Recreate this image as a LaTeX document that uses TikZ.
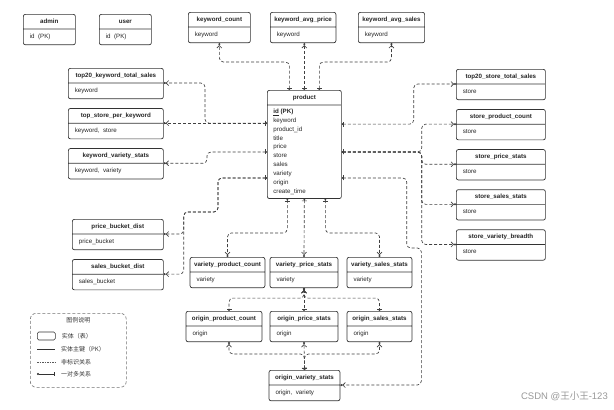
\documentclass[tikz,border=0pt]{standalone}
\usepackage{fontspec}
\setmainfont{Liberation Sans}
\newfontfamily\cjk{Noto Sans CJK SC}
\usetikzlibrary{shapes.multipart,arrows.meta,positioning}

% table: bold title part, field part
\newcommand{\tbl}[2]{\textbf{#1}\rule[-2pt]{0pt}{7pt}\nodepart{two}\rule[-2.5pt]{0pt}{8pt}\hspace*{2.5pt}#2}

\begin{document}
\begin{tikzpicture}[
    x=1pt, y=-1pt,
    node distance=9pt,
    entity/.style={rectangle split, rectangle split parts=2, rectangle split part align={center,left},
        draw=black!80, line width=0.7pt, rounded corners=2pt, inner xsep=4pt, inner ysep=3.5pt,
        text=black!85, font=\fontsize{6.2}{8.9}\selectfont, anchor=north west},
    link/.style={draw=black!75, line width=0.65pt, dash pattern=on 3pt off 2pt, rounded corners=4pt},
    fk/.style={link, {Circle[length=1.6pt] Bar[width=5pt]}-{Straight Barb[length=2.5pt,width=5pt] Circle[length=2pt]}},
    fkback/.style={link, {Circle[length=2pt] Straight Barb[length=2.5pt,width=5pt]}-{Bar[width=5pt] Circle[length=1.6pt]}},
    legtext/.style={font=\cjk\fontsize{6}{7}\selectfont, text=black!80, anchor=west, inner sep=0pt}
    ]

    \path[use as bounding box, fill=white] (0,0) rectangle (614,410);

    % Stand-alone tables
    \node[entity, minimum width=52pt] (admin) at (23,14) {\tbl{admin}{id\ \ (PK)}};
    \node[entity, minimum width=52pt] (user) at (99,14) {\tbl{user}{id\ \ (PK)}};

    % Keyword tables above product
    \node[entity, minimum width=62pt] (kwcount) at (188,12) {\tbl{keyword\_count}{keyword}};
    \node[entity, minimum width=65pt] (kwprice) at (270,12) {\tbl{keyword\_avg\_price}{keyword}};
    \node[entity, minimum width=64pt] (kwsales) at (358,12) {\tbl{keyword\_avg\_sales}{keyword}};

    % Central table
    \node[entity, minimum width=74pt, inner xsep=6pt, align=left] (product) at (267,90) {\textbf{product}\rule[-2pt]{0pt}{7pt}\nodepart{two}\textbf{\underline{id}\ (PK)}\\keyword\\product\_id\\title\\price\\store\\sales\\variety\\origin\\create\_time};

    % Left column
    \node[entity, minimum width=95pt] (t20kw) at (68,68) {\tbl{top20\_keyword\_total\_sales}{keyword}};
    \node[entity, minimum width=95pt, below=of t20kw] (storekw) {\tbl{top\_store\_per\_keyword}{keyword,\ \ store}};
    \node[entity, minimum width=95pt, below=of storekw] (kwvariety) {\tbl{keyword\_variety\_stats}{keyword,\ \ variety}};
    \node[entity, minimum width=91pt] (pricebucket) at (72,219) {\tbl{price\_bucket\_dist}{price\_bucket}};
    \node[entity, minimum width=91pt, below=of pricebucket] (salesbucket) {\tbl{sales\_bucket\_dist}{sales\_bucket}};

    % Right column
    \node[entity, minimum width=89pt] (t20store) at (456,69) {\tbl{top20\_store\_total\_sales}{store}};
    \node[entity, minimum width=89pt, below=of t20store] (storecount) {\tbl{store\_product\_count}{store}};
    \node[entity, minimum width=89pt, below=of storecount] (storeprice) {\tbl{store\_price\_stats}{store}};
    \node[entity, minimum width=89pt, below=of storeprice] (storesales) {\tbl{store\_sales\_stats}{store}};
    \node[entity, minimum width=89pt, below=of storesales] (storebreadth) {\tbl{store\_variety\_breadth}{store}};

    % Variety row
    \node[entity, minimum width=69pt, anchor=north] (varcount) at (227.5,257) {\tbl{variety\_product\_count}{variety}};
    \node[entity, minimum width=68pt, anchor=north] (varprice) at (304,257) {\tbl{variety\_price\_stats}{variety}};
    \node[entity, minimum width=65pt, anchor=north] (varsales) at (379.5,257) {\tbl{variety\_sales\_stats}{variety}};

    % Origin row
    \node[entity, minimum width=76pt, anchor=north] (orgcount) at (224,311) {\tbl{origin\_product\_count}{origin}};
    \node[entity, minimum width=68pt, anchor=north] (orgprice) at (304,311) {\tbl{origin\_price\_stats}{origin}};
    \node[entity, minimum width=65pt, anchor=north] (orgsales) at (379.5,311) {\tbl{origin\_sales\_stats}{origin}};
    \node[entity, minimum width=71pt, anchor=north] (orgvariety) at (304.5,370) {\tbl{origin\_variety\_stats}{origin,\ \ variety}};

    % Product -> keyword tables
    \draw[fk] ([xshift=-15pt]product.north) -- ++(0,-28) -| (kwcount.south);
    \draw[fk] (product.north) -- (product.north |- kwprice.south);
    \draw[fk] ([xshift=15pt]product.north) -- ++(0,-28) -| (kwsales.south);

    % Product -> left tables
    \draw[fk] (product.west |- storekw.one split east) -- (storekw.one split east);
    \draw[fk] (product.west |- storekw.one split east) -- ++(-62,0) |- (t20kw.one split east);
    \draw[fk] ([yshift=-7.5pt]product.west) -- ++(-60,0) |- (kwvariety.one split east);
    \draw[fk] ([yshift=-33.5pt]product.west) -| ++(-49,34) -| ([xshift=20pt]pricebucket.one split east) -- (pricebucket.one split east);
    \draw[fk] ([yshift=-33.5pt]product.west) -| ++(-49,34) -| ([xshift=20pt]salesbucket.one split east) -- (salesbucket.one split east);

    % Product -> right tables
    \draw[fk] (product.east |- storecount.one split west) -- ++(72,0) |- (t20store.one split west);
    \draw[fk] ([yshift=-7.5pt]product.east) -- ++(80,0) |- (storecount.one split west);
    \draw[fk] ([yshift=-7.5pt]product.east) -- ++(80,0) |- (storeprice.one split west);
    \draw[fk] ([yshift=-7.5pt]product.east) -- ++(80,0) |- (storesales.one split west);
    \draw[fk] ([yshift=-7.5pt]product.east) -- ++(80,0) |- (storebreadth.one split west);
    \draw[fk] ([yshift=-33.5pt]product.east) -| ++(65,70) -| ([xshift=81pt]orgvariety.one split east) -- (orgvariety.one split east);

    % Product -> variety tables
    \draw[fk] ([xshift=-17pt]product.south) -- ++(0,34) -| (varcount.north);
    \draw[fk] (product.south) -- (varprice.north);
    \draw[fk] ([xshift=21pt]product.south) -- ++(0,34) -| (varsales.north);

    % Variety price -> origin tables
    \draw[fkback] (varprice.south) -- (orgprice.north);
    \draw[fkback] (varprice.south) -- ++(0,10) -| ([xshift=5pt]orgcount.north);
    \draw[fkback] (varprice.south) -- ++(0,10) -| (orgsales.north);

    % Origin variety -> origin tables
    \draw[fk] (orgvariety.north) -- (orgprice.south);
    \draw[fk] (orgvariety.north) -- ++(0,-16) -| ([xshift=5pt]orgcount.south);
    \draw[fk] (orgvariety.north) -- ++(0,-16) -| (orgsales.south);

    % Legend
    \node[draw=black!55, line width=0.6pt, dash pattern=on 3pt off 2pt, rounded corners=6pt,
        minimum width=96pt, minimum height=74pt, anchor=north west] (legend) at (30,313) {};
    \node[legtext, anchor=north] (legtitle) at ([yshift=-4pt]legend.north) {图例说明};
    \node[draw=black!80, line width=0.6pt, rounded corners=1.5pt, minimum width=18pt, minimum height=8pt,
        inner sep=0pt, anchor=west] (legbox) at (37,336) {};
    \node[legtext, right=6pt of legbox] (legboxtext) {实体（表）};
    \node[legtext] (legpktext) at (61,349) {实体主键（PK）};
    \node[legtext] (leglinktext) at (61,362) {非标识关系};
    \node[legtext] (legfktext) at (61,374) {一对多关系};
    \draw[black!80, line width=0.6pt] ([xshift=-24pt]legpktext.west) -- ([xshift=-6pt]legpktext.west);
    \draw[black!65, line width=0.5pt, dash pattern=on 1.5pt off 1pt] ([xshift=-24pt]leglinktext.west) -- ([xshift=-6pt]leglinktext.west);
    \draw[black!80, line width=0.6pt, {Circle[length=2pt]}-{Bar[width=4pt]}] ([xshift=-24pt]legfktext.west) -- ([xshift=-6pt]legfktext.west);

    % Watermark
    \node[anchor=east, text=black!40, font=\fontsize{9.5}{10}\selectfont, inner sep=0pt] (mark) at (608,396) {CSDN @{\cjk 王小王}-123};

\end{tikzpicture}
\end{document}
